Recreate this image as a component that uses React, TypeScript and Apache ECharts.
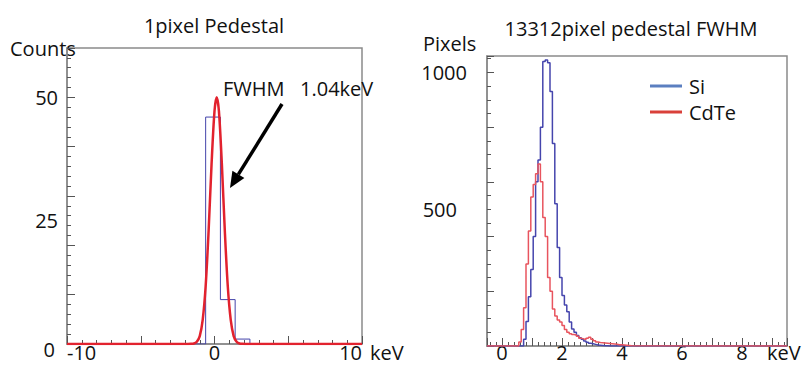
import React, { useEffect, useRef } from "react";
import * as echarts from "echarts";

const FONT = "'Open Sans', 'Noto Sans', sans-serif";

// ---------- Left panel: 1pixel Pedestal ----------
const pedTitle = "1pixel Pedestal";
const pedHistEdges = [-10, -0.6, 0.4, 1.4, 2.4, 10];
const pedHistCounts = [0, 46, 9, 1, 0, 0];
const pedFitX = [-10, -1.8, -1.6, -1.4, -1.2, -1.0, -0.8, -0.6, -0.4, -0.2, 0, 0.15, 0.3, 0.5, 0.7, 0.9, 1.1, 1.3, 1.5, 1.7, 1.9, 2.1, 10];
const pedFitY = [0, 0, 0.03, 0.1, 0.45, 1.6, 4.9, 11.7, 22.9, 36.4, 47.2, 50, 47.2, 36.4, 22.9, 11.7, 4.9, 1.6, 0.45, 0.1, 0.03, 0, 0];
const pedXLabels = [-10, 0, 10];
const pedYLabels = [0, 25, 50];

// ---------- Right panel: 13312pixel pedestal FWHM ----------
const fwhmTitle = "13312pixel pedestal FWHM";
const fwhmBinEdges = [0.56, 0.64, 0.72, 0.8, 0.88, 0.96, 1.04, 1.12, 1.2, 1.28, 1.36, 1.44, 1.52, 1.6, 1.68, 1.76, 1.84, 1.92, 2.0, 2.08, 2.16, 2.24, 2.32, 2.4, 2.48, 2.56, 2.64, 2.72, 2.8, 2.88, 2.96, 3.04, 3.12, 3.2, 3.28, 3.36, 3.44, 3.52, 3.6, 3.68, 3.76, 3.84, 3.92, 4.0, 4.08, 4.16, 4.24, 4.32];
const siCounts = [0, 0, 25, 90, 180, 280, 400, 600, 680, 800, 1040, 1045, 1035, 930, 740, 520, 360, 250, 185, 150, 125, 88, 62, 50, 38, 30, 25, 18, 14, 10, 8, 6, 4, 3, 2, 1, 1, 0, 0, 0, 0, 0, 0, 0, 0, 0, 0, 0];
const cdteCounts = [15, 60, 140, 300, 420, 545, 590, 630, 665, 600, 470, 400, 250, 200, 135, 110, 95, 88, 75, 60, 50, 45, 42, 40, 36, 28, 26, 24, 28, 32, 25, 19, 15, 13, 12, 11, 10, 9, 8, 7, 6, 5, 5, 4, 3, 2, 1, 0];
const fwhmXLabels = [0, 2, 4, 6, 8];
const fwhmYLabels = [500, 1000];
const seriesNames = ["Si", "CdTe"];

const TICK = "#555";
const FRAME = "#8a8a8a";

function histData(edges: number[], counts: number[], lo: number, hi: number) {
  const d: number[][] = [[lo, 0]];
  edges.forEach((e, i) => d.push([e, counts[i]]));
  d.push([hi, 0]);
  return d;
}

export default function App() {
  const ref = useRef<HTMLDivElement>(null);
  useEffect(() => {
    if (!ref.current) return;
    const chart = echarts.init(ref.current, undefined, { renderer: "svg" });
    const label = { fontSize: 20, fontFamily: FONT, color: "#111" };
    const axLine = { show: true, onZero: false, lineStyle: { color: FRAME, width: 1.5 } };
    const txt = (text: string, x: number, y: number, align = "left") => ({
      type: "text", x, y,
      style: { text, fontSize: 20, fontFamily: FONT, fill: "#111", align, verticalAlign: "middle", lineHeight: 16 },
    });
    const option: any = {
      animation: false,
      backgroundColor: "#fff",
      textStyle: { fontFamily: FONT },
      grid: [
        { left: 67, top: 48, width: 295, height: 296, show: true, borderColor: FRAME, borderWidth: 1.5, backgroundColor: "transparent" },
        { left: 487, top: 56, width: 300, height: 290, show: true, borderColor: FRAME, borderWidth: 1.5, backgroundColor: "transparent" },
      ],
      legend: {
        orient: "vertical",
        left: 645,
        top: 71,
        itemWidth: 32,
        itemHeight: 3,
        itemGap: 6,
        icon: "rect",
        textStyle: { ...label, padding: [0, 0, 0, 2] },
        data: [
          { name: seriesNames[0], itemStyle: { color: "#5b7fc0" } },
          { name: seriesNames[1], itemStyle: { color: "#d9403a" } },
        ],
      },
      xAxis: [
        {
          gridIndex: 0, type: "value", min: -10, max: 10, interval: 5,
          axisLine: axLine,
          axisTick: { show: true, inside: true, length: 8, lineStyle: { color: TICK } },
          minorTick: { show: true, splitNumber: 5, length: 4, lineStyle: { color: TICK } },
          splitLine: { show: false },
          axisLabel: {
            ...label, margin: 0, lineHeight: 16, alignMinLabel: "left", alignMaxLabel: "right",
            formatter: (v: number) => (pedXLabels.includes(v) ? String(v) : ""),
          },
        },
        {
          gridIndex: 1, type: "value", min: -0.5, max: 9.5, splitNumber: 10,
          axisLine: axLine,
          axisTick: { show: true, inside: true, length: 8, lineStyle: { color: TICK } },
          minorTick: { show: true, splitNumber: 5, length: 4, lineStyle: { color: TICK } },
          splitLine: { show: false },
          axisLabel: { ...label, margin: -2, lineHeight: 16, formatter: (v: number) => (fwhmXLabels.includes(v) ? String(v) : "") },
        },
      ],
      yAxis: [
        {
          gridIndex: 0, type: "value", min: 0, max: 60, interval: 10,
          axisLine: axLine,
          axisTick: { show: true, inside: true, length: 8, lineStyle: { color: TICK } },
          minorTick: { show: true, splitNumber: 5, length: 4, lineStyle: { color: TICK } },
          splitLine: { show: false },
          axisLabel: { show: false },
        },
        {
          gridIndex: 0, type: "value", min: 0, max: 60, interval: 25, position: "left",
          axisLine: { show: false, onZero: false }, axisTick: { show: false }, splitLine: { show: false },
          axisLabel: {
            ...label, margin: 9, lineHeight: 16,
            formatter: (v: number) => (v === 0 ? "{z|0}" : pedYLabels.includes(v) ? String(v) : ""),
            rich: { z: { ...label, lineHeight: 16, padding: [10, 3, 0, 0] } },
          },
        },
        {
          gridIndex: 1, type: "value", min: 0, max: 1060, interval: 200,
          axisLine: axLine,
          axisTick: { show: true, inside: true, length: 7, lineStyle: { color: TICK } },
          minorTick: { show: true, splitNumber: 4, length: 4, lineStyle: { color: TICK } },
          splitLine: { show: false },
          axisLabel: { show: false },
        },
        {
          gridIndex: 1, type: "value", min: 0, max: 1060, interval: 500, position: "left",
          axisLine: { show: false, onZero: false }, axisTick: { show: false }, splitLine: { show: false },
          axisLabel: {
            ...label, margin: 20,
            formatter: (v: number) => (v === 500 ? "{p|500}" : fwhmYLabels.includes(v) ? String(v) : ""),
            rich: { p: { ...label, padding: [0, 10, 0, 0] } },
          },
        },
      ],
      series: [
        {
          name: "pedestal", type: "line", xAxisIndex: 0, yAxisIndex: 0, step: "end", symbol: "none",
          lineStyle: { color: "#4444aa", width: 1 }, data: histData(pedHistEdges.slice(1, -1), pedHistCounts.slice(1, -1), -10, 10),
        },
        {
          name: "fit", type: "line", xAxisIndex: 0, yAxisIndex: 0, smooth: 0.3, symbol: "none",
          lineStyle: { color: "#e2222e", width: 2.5 }, data: pedFitX.map((x, i) => [x, pedFitY[i]]),
        },
        {
          name: seriesNames[0], type: "line", xAxisIndex: 1, yAxisIndex: 2, step: "end", symbol: "none",
          itemStyle: { color: "#4545ad" }, lineStyle: { color: "#4545ad", width: 1.5 },
          data: histData(fwhmBinEdges, siCounts, -0.5, 9.5),
        },
        {
          name: seriesNames[1], type: "line", xAxisIndex: 1, yAxisIndex: 2, step: "end", symbol: "none",
          itemStyle: { color: "#e8545e" }, lineStyle: { color: "#e8545e", width: 1.5 },
          data: histData(fwhmBinEdges, cdteCounts, -0.5, 9.5),
        },
      ],
      graphic: [
        txt(pedTitle, 214, 25, "center"),
        txt(fwhmTitle, 631, 28, "center"),
        txt("Counts", 10, 48),
        txt("Pixels", 423, 43),
        txt("FWHM", 223, 88),
        txt("1.04keV", 300, 88),
        txt("keV", 370, 352),
        txt("keV", 767, 352),
        { type: "line", shape: { x1: 282, y1: 104, x2: 238.4, y2: 174.4 }, style: { stroke: "#000", lineWidth: 3.5 } },
        { type: "polygon", shape: { points: [[230, 188], [244.4, 178.1], [232.4, 170.7]] }, style: { fill: "#000" } },
      ],
    };
    chart.setOption(option);
    return () => chart.dispose();
  }, []);
  return <div ref={ref} style={{ position: "fixed", left: 0, top: 0, width: 803, height: 365, background: "#fff" }} />;
}
